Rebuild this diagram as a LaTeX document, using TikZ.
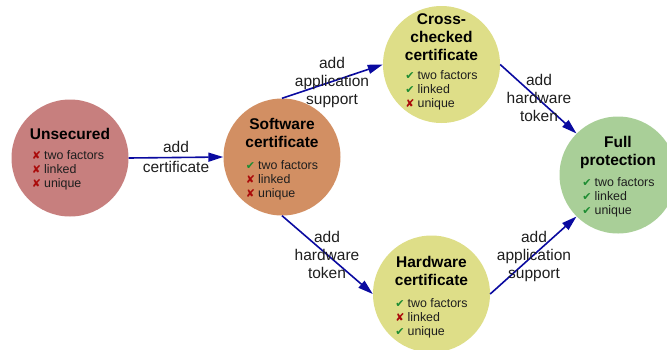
\documentclass[tikz,border=0pt]{standalone}
\usepackage{fontspec}
\setmainfont{Liberation Sans}
\newfontfamily\symfont{DejaVu Sans}
\usetikzlibrary{arrows.meta}
\definecolor{cunsec}{RGB}{199,127,126}
\definecolor{csoft}{RGB}{210,143,99}
\definecolor{cyel}{RGB}{222,222,136}
\definecolor{cfull}{RGB}{169,207,152}
\definecolor{carrow}{RGB}{10,10,160}
\definecolor{cok}{RGB}{30,140,50}
\definecolor{cno}{RGB}{170,10,10}
\definecolor{ctxt}{RGB}{30,30,30}
\newcommand{\yes}{{\symfont\fontsize{11}{14}\selectfont\textcolor{cok}{✔}}\hspace{3pt}}
\newcommand{\no}{{\symfont\fontsize{11}{14}\selectfont\textcolor{cno}{✘}}\hspace{3pt}}
\tikzset{
  state/.style={circle, draw=none, inner sep=0pt, minimum size=117pt},
  title/.style={inner sep=0pt, font=\fontsize{15.5}{18}\selectfont\bfseries, text=black},
  feat/.style={inner sep=0pt, font=\fontsize{12.4}{14}\selectfont, text=ctxt},
  lbl/.style={inner sep=0pt, font=\fontsize{15.5}{18}\selectfont, text=ctxt},
  conn/.style={draw=carrow, line width=1.6pt, -{Triangle[length=15pt,width=9pt]}},
}
\begin{document}
\begin{tikzpicture}[x=1pt,y=-1pt]
\useasboundingbox (0,0) rectangle (667,349);
% states
\node[state, fill=cunsec] (u) at (70,158) {};
\node[state, fill=csoft] (s) at (282,157) {};
\node[state, fill=cyel] (c) at (441.5,64.5) {};
\node[state, fill=cyel] (h) at (431.5,294) {};
\node[state, fill=cfull] (f) at (618,175) {};
% titles
\node[title] (ut) at (70,134) {Unsecured};
\node[title] (st) at (282,135) {\begin{tabular}{@{}c@{}}Software\\certificate\end{tabular}};
\node[title] (ct) at (441.5,38.5) {\begin{tabular}{@{}c@{}}Cross-\\checked\\certificate\end{tabular}};
\node[title] (ht) at (431.5,273) {\begin{tabular}{@{}c@{}}Hardware\\certificate\end{tabular}};
\node[title] (ft) at (618,152.5) {\begin{tabular}{@{}c@{}}Full\\protection\end{tabular}};
% features
\node[feat] (uf) at (68,171) {\begin{tabular}{@{}l@{}}\no two factors\\\no linked\\\no unique\end{tabular}};
\node[feat] (sf) at (282,181) {\begin{tabular}{@{}l@{}}\yes two factors\\\no linked\\\no unique\end{tabular}};
\node[feat] (cf) at (441.5,91) {\begin{tabular}{@{}l@{}}\yes two factors\\\yes linked\\\no unique\end{tabular}};
\node[feat] (hf) at (431.5,319) {\begin{tabular}{@{}l@{}}\yes two factors\\\no linked\\\yes unique\end{tabular}};
\node[feat] (ff) at (618.5,198) {\begin{tabular}{@{}l@{}}\yes two factors\\\yes linked\\\yes unique\end{tabular}};
% connectors
\draw[conn] (u.east) -- (s.west);
\draw[conn] (s.north) -- (c.west);
\draw[conn] (s.south) -- (h.west);
\draw[conn] (c.east) -- (f.north west);
\draw[conn] (h.east) -- (f.south west);
% labels
\node[lbl] (l1) at (176,159) {\begin{tabular}{@{}c@{}}add\\[2pt]certificate\end{tabular}};
\node[lbl] (l2) at (332,83) {\begin{tabular}{@{}c@{}}add\\application\\support\end{tabular}};
\node[lbl] (l3) at (539,100) {\begin{tabular}{@{}c@{}}add\\hardware\\token\end{tabular}};
\node[lbl] (l4) at (327,257) {\begin{tabular}{@{}c@{}}add\\hardware\\token\end{tabular}};
\node[lbl] (l5) at (534,257) {\begin{tabular}{@{}c@{}}add\\application\\support\end{tabular}};
\end{tikzpicture}
\end{document}
